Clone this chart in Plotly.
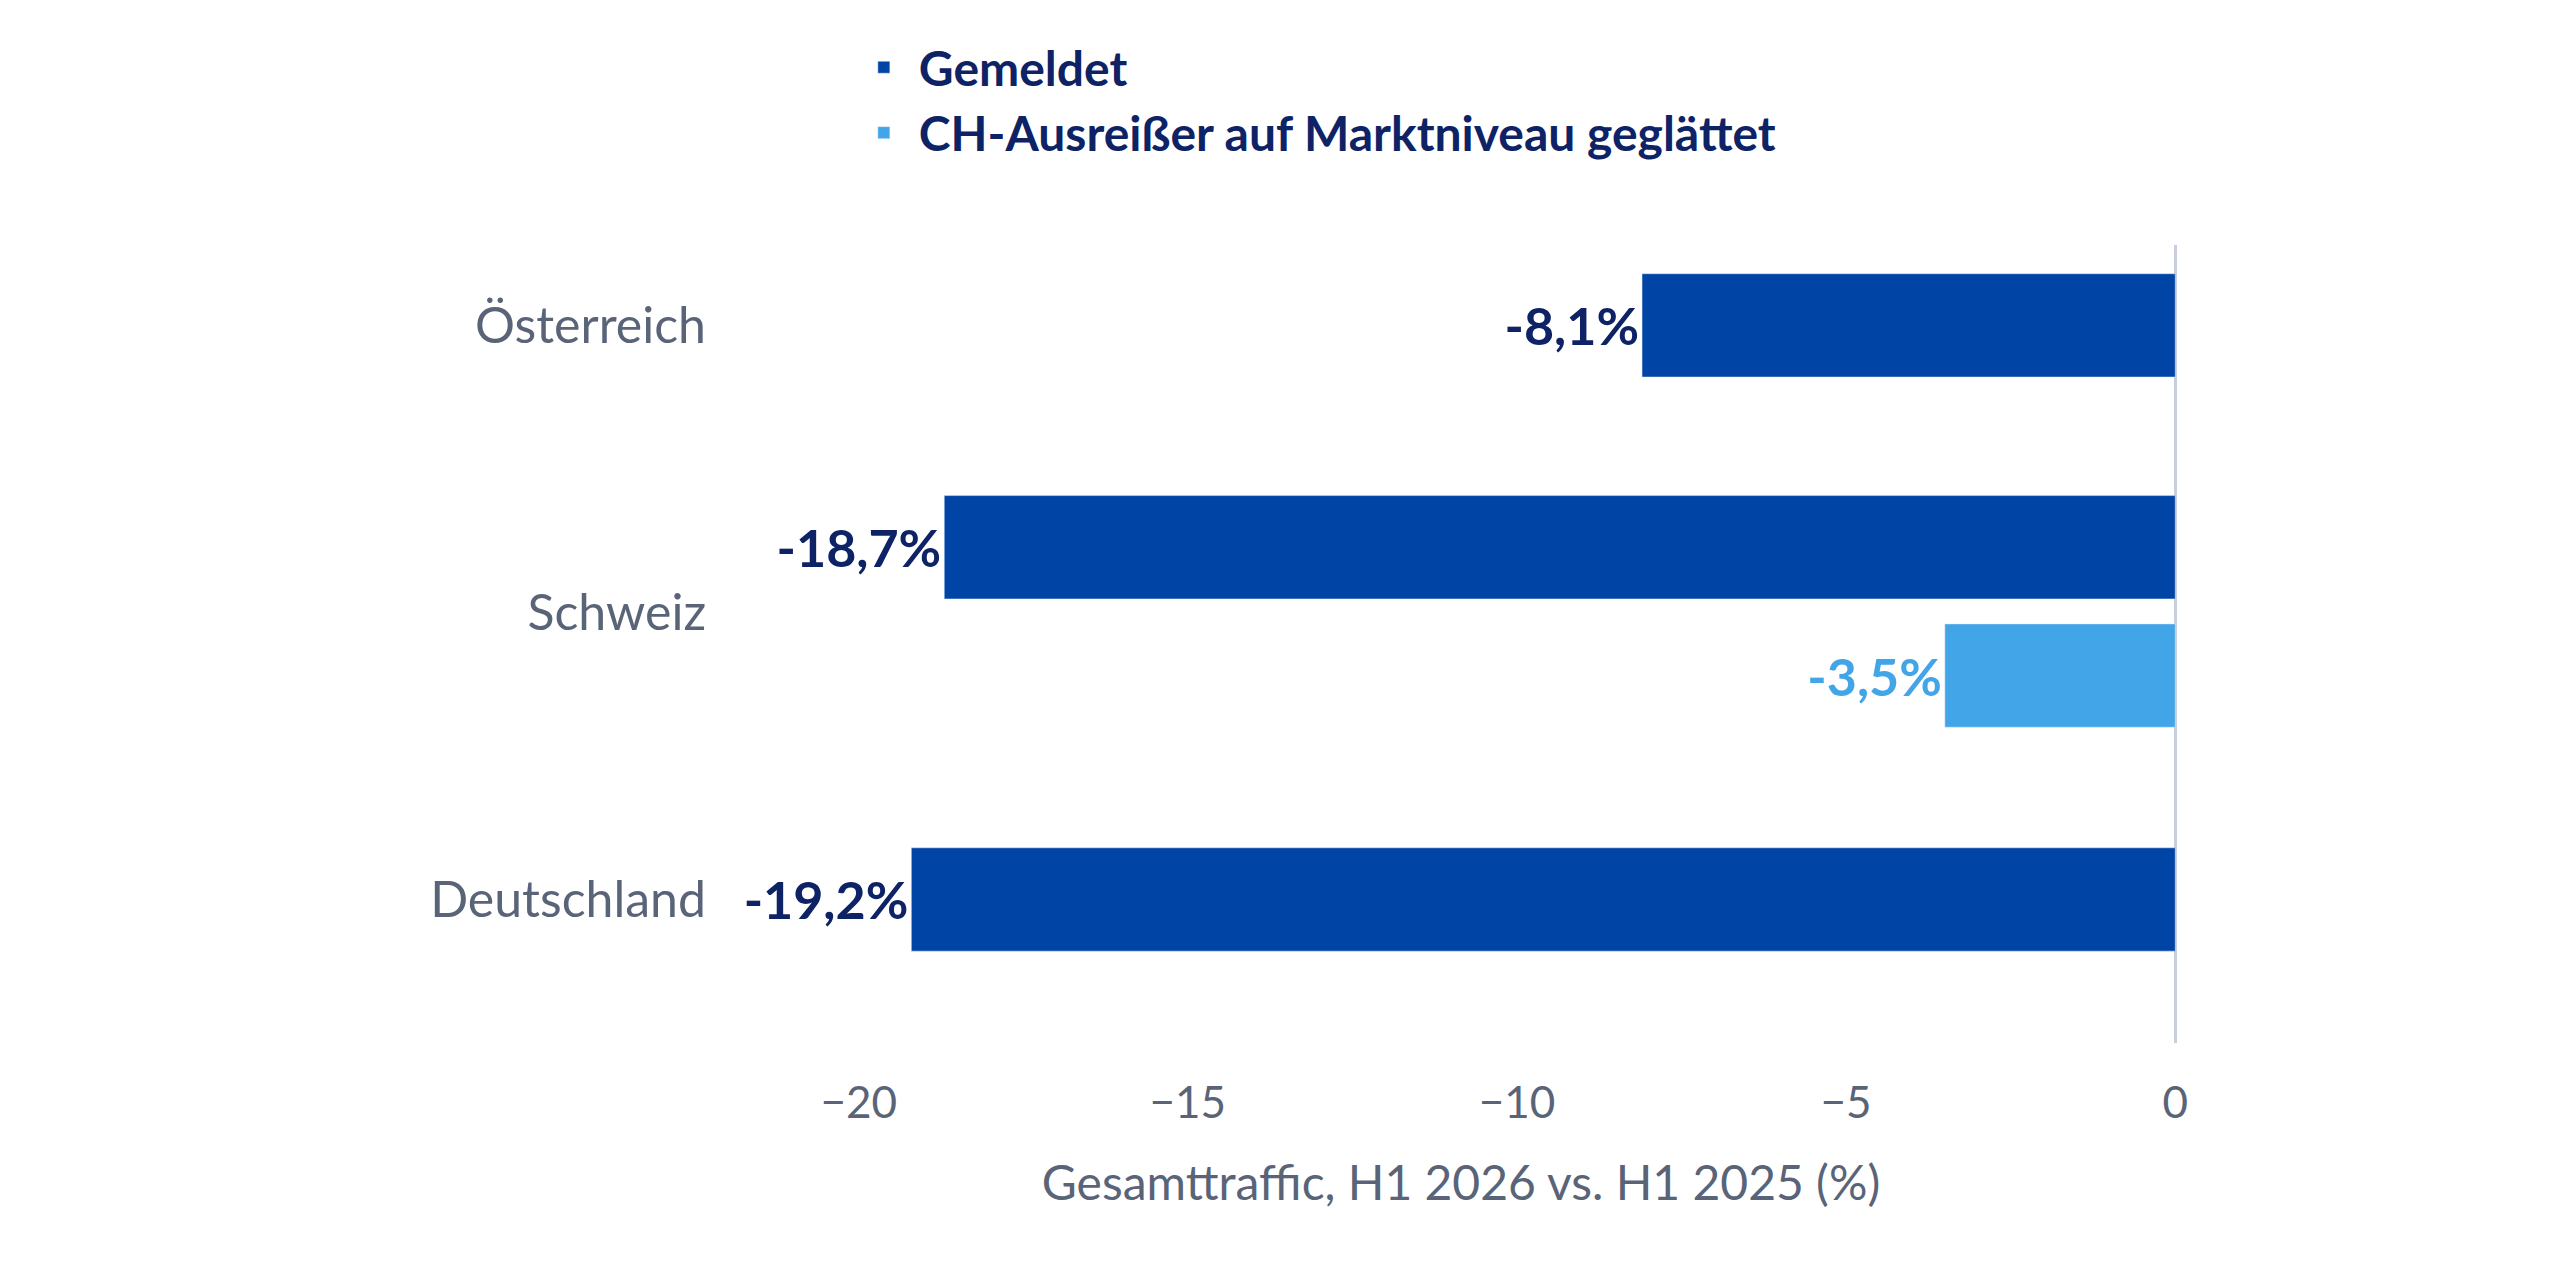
import plotly.graph_objects as go

countries = ["Deutschland", "Schweiz", "Österreich"]
single_countries = ["Deutschland", "Österreich"]
single_values = [-19.2, -8.1]
ch_reported = [-18.7]
ch_smoothed = [-3.5]
ticks = [-20, -15, -10, -5, 0]

DARK = "#0044A6"
LIGHT = "#41A5E8"
NAVY = "#0D2366"
GRAY = "#5A6478"
W = 0.36


def lbl(vals):
    return [f"{v:.1f}%".replace(".", ",") for v in vals]


fig = go.Figure()
fig.add_trace(go.Bar(
    y=single_countries, x=single_values, orientation="h", width=W, offset=-W / 2,
    marker_color=DARK, name="Gemeldet", text=lbl(single_values),
    textposition="outside", textfont=dict(color=NAVY, size=52, family="Lato", weight="bold"),
    cliponaxis=False,
))
fig.add_trace(go.Bar(
    y=["Schweiz"], x=ch_reported, orientation="h", width=W, offset=0.047,
    marker_color=DARK, name="Gemeldet", showlegend=False, text=lbl(ch_reported),
    textposition="outside", textfont=dict(color=NAVY, size=52, family="Lato", weight="bold"),
    cliponaxis=False,
))
fig.add_trace(go.Bar(
    y=["Schweiz"], x=ch_smoothed, orientation="h", width=W, offset=-0.40,
    marker_color=LIGHT, name="CH-Ausreißer auf Marktniveau geglättet", text=lbl(ch_smoothed),
    textposition="outside", textfont=dict(color=LIGHT, size=52, family="Lato", weight="bold"),
    cliponaxis=False,
))

fig.update_layout(
    width=2560, height=1280, barmode="overlay",
    plot_bgcolor="white", paper_bgcolor="white",
    margin=dict(l=719, r=373, t=237, b=245),
    font=dict(family="Lato", color=GRAY),
    legend=dict(x=0.083, y=1.27, xanchor="left", yanchor="top", orientation="v",
                font=dict(size=48, color=NAVY, family="Lato", weight="bold"),
                tracegroupgap=20, itemwidth=60),
)
fig.update_xaxes(range=[-22, 0.3], tickvals=ticks, tickfont=dict(size=44, color=GRAY),
                 showgrid=False, zeroline=True, zerolinecolor="#C8CEDC", zerolinewidth=3,
                 title=dict(text="Gesamttraffic, H1 2026 vs. H1 2025 (%)",
                            font=dict(size=48, color=GRAY), standoff=40),
                 ticks="", ticklabelstandoff=30)
fig.update_yaxes(categoryorder="array", categoryarray=countries, range=[-0.5, 2.28],
                 tickfont=dict(size=50, color=GRAY), showgrid=False, ticks="",
                 ticklabelstandoff=20)

fig.write_html("out.html")
